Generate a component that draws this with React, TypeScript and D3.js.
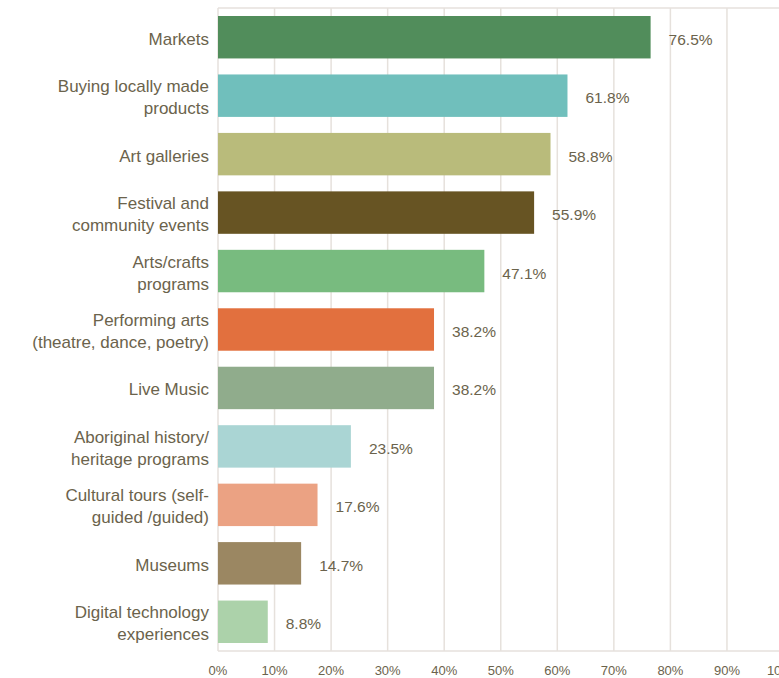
import React from 'react';
import * as d3 from 'd3';

// categories, top to bottom (lines for the wrapped labels)
const categories = [
    ['Markets'],
    ['Buying locally made', 'products'],
    ['Art galleries'],
    ['Festival and', 'community events'],
    ['Arts/crafts', 'programs'],
    ['Performing arts', '(theatre, dance, poetry)'],
    ['Live Music'],
    ['Aboriginal history/', 'heritage programs'],
    ['Cultural tours (self-', 'guided /guided)'],
    ['Museums'],
    ['Digital technology', 'experiences'],
];

const values = [76.5, 61.8, 58.8, 55.9, 47.1, 38.2, 38.2, 23.5, 17.6, 14.7, 8.8];

const colors = [
    '#518d5b', '#70bfbc', '#b9bb7b', '#675423', '#78bb7f', '#e2703e',
    '#90ac8c', '#aad5d4', '#eba283', '#9b8762', '#acd2aa',
];

const ticks = [0, 10, 20, 30, 40, 50, 60, 70, 80, 90, 100];

const W = 779;
const H = 678;
const textColor = '#6b634c';
const gridColor = '#e6e1dc';
const font = '"Liberation Sans", Arial, sans-serif';

export default function App() {
    const left = 218;
    const top = 8;
    const bottom = 651;

    const x = d3.scaleLinear().domain([0, 100]).range([left, left + 565.5]);
    const y = d3.scaleBand<number>()
        .domain(d3.range(values.length))
        .range([top, bottom])
        .paddingInner(0.274)
        .paddingOuter(0.137);

    return (
        <svg width={W} height={H} style={{ position: 'absolute', left: 0, top: 0 }}>
            {/* grid */}
            {ticks.map(t => (
                <line key={'g' + t} x1={x(t)} x2={x(t)} y1={top} y2={bottom} stroke={gridColor} strokeWidth={1.5} />
            ))}
            <line x1={left} x2={W} y1={top} y2={top} stroke={gridColor} strokeWidth={1.5} />
            <line x1={left} x2={W} y1={bottom} y2={bottom} stroke={gridColor} strokeWidth={1.5} />

            {/* bars */}
            {values.map((v, i) => (
                <rect key={'b' + i} x={x(0)} y={y(i)} width={x(v) - x(0)} height={y.bandwidth()} fill={colors[i]} />
            ))}

            {/* value labels */}
            {values.map((v, i) => (
                <text key={'v' + i} x={x(v) + 18} y={(y(i) ?? 0) + y.bandwidth() / 2 + 2}
                    dominantBaseline="central" fontSize={15.5} fontFamily={font} fill={textColor}>
                    {v.toFixed(1) + '%'}
                </text>
            ))}

            {/* category labels */}
            {categories.map((lines, i) => {
                const cy = (y(i) ?? 0) + y.bandwidth() / 2 + 2;
                const lh = 22;
                const y0 = cy - ((lines.length - 1) * lh) / 2;
                return (
                    <text key={'c' + i} textAnchor="end" fontSize={17} fontFamily={font} fill={textColor}>
                        {lines.map((l, j) => (
                            <tspan key={j} x={left - 9} y={y0 + j * lh} dominantBaseline="central">{l}</tspan>
                        ))}
                    </text>
                );
            })}

            {/* x axis ticks */}
            {ticks.map(t => (
                <text key={'t' + t} x={x(t)} y={670} textAnchor="middle" dominantBaseline="central"
                    fontSize={13} fontFamily={font} fill={textColor}>
                    {t + '%'}
                </text>
            ))}
        </svg>
    );
}
